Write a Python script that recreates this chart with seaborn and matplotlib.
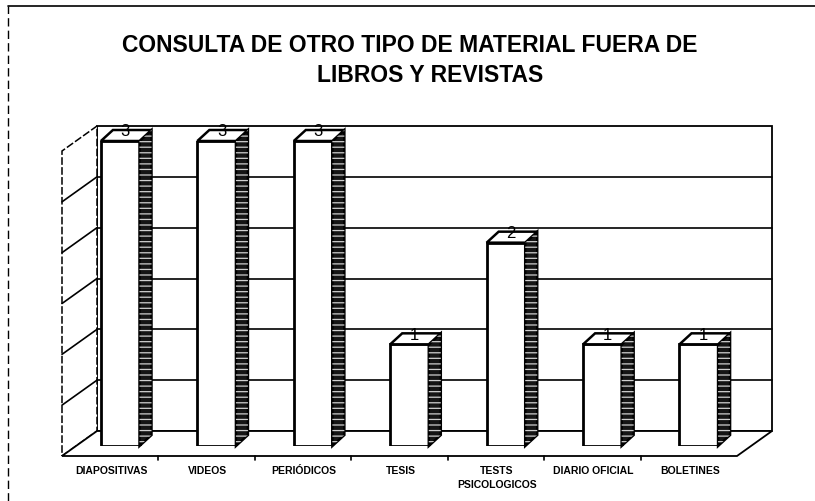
import matplotlib
matplotlib.use("Agg")
import matplotlib.pyplot as plt
import seaborn as sns
import pandas as pd
from matplotlib.patches import Polygon
from matplotlib.lines import Line2D
from matplotlib.transforms import ScaledTranslation

# --- data -------------------------------------------------------------
categorias = ["DIAPOSITIVAS", "VIDEOS", "PERIÓDICOS", "TESIS",
              "TESTS\nPSICOLOGICOS", "DIARIO OFICIAL", "BOLETINES"]
consultas = [3, 3, 3, 1, 2, 1, 1]
titulo = ["CONSULTA DE OTRO TIPO DE MATERIAL FUERA DE", "LIBROS Y REVISTAS"]
y_max = 3
rejilla = [0.5, 1.0, 1.5, 2.0, 2.5]

# --- style ------------------------------------------------------------
sns.set_theme(style="white")
plt.rcParams['font.family'] = ['Liberation Sans', 'DejaVu Sans']
plt.rcParams['hatch.linewidth'] = 0.9
plt.rcParams['text.color'] = 'black'
plt.rcParams['xtick.color'] = 'black'
plt.rcParams['xtick.labelcolor'] = 'black'
plt.rcParams['axes.labelcolor'] = 'black'

W, H = 815, 502
fig = plt.figure(figsize=(W / 100, H / 100), dpi=100, facecolor="white")
ax = fig.add_axes([72 / W, (H - 447) / H, 675 / W, 305 / H])

df = pd.DataFrame({"material": categorias, "consultas": consultas})
sns.barplot(data=df, x="material", y="consultas", color="white",
            saturation=1, edgecolor="black", linewidth=2, width=0.4,
            ax=ax, zorder=5)

n = len(categorias)
x0, x1 = -0.5, n - 0.5
ax.set_xlim(x0, x1)
ax.set_ylim(0, y_max)
ax.set_facecolor("none")
for s in ax.spines.values():
    s.set_visible(False)
ax.set_yticks([])
ax.set_xlabel("")
ax.set_ylabel("")

# pixel -> data scale for the oblique depth offsets
sx = ax.bbox.width / (x1 - x0)
sy = ax.bbox.height / y_max


def shift(x, y, off):
    return (x + off[0] / sx, y + off[1] / sy)


FRONT = (-10, -10)   # front edge of walls / floor
BACK = (25, 15)      # back wall plane
DEPTH = (12, 11)     # bar depth

kw_line = dict(color="black", lw=1.2, clip_on=False, zorder=2)

# back wall, left wall and floor
back = Polygon([shift(x0, 0, BACK), shift(x1, 0, BACK),
                shift(x1, y_max, BACK), shift(x0, y_max, BACK)],
               closed=True, facecolor="white", edgecolor="black", lw=1.3,
               clip_on=False, zorder=1)
left = Polygon([shift(x0, 0, FRONT), shift(x0, 0, BACK),
                shift(x0, y_max, BACK), shift(x0, y_max, FRONT)],
               closed=True, facecolor="white", edgecolor="black", lw=1.1,
               linestyle=(0, (5, 1.5)), clip_on=False, zorder=1)
floor = Polygon([shift(x0, 0, FRONT), shift(x1, 0, FRONT),
                 shift(x1, 0, BACK), shift(x0, 0, BACK)],
                closed=True, facecolor="white", edgecolor="black", lw=1.3,
                clip_on=False, zorder=1)
for p in (back, left, floor):
    ax.add_patch(p)

# gridlines on the back and left walls
for v in rejilla:
    a, b = shift(x0, v, BACK), shift(x1, v, BACK)
    ax.add_line(Line2D([a[0], b[0]], [a[1], b[1]], **kw_line))
    a, b = shift(x0, v, FRONT), shift(x0, v, BACK)
    ax.add_line(Line2D([a[0], b[0]], [a[1], b[1]], **kw_line))

# small tick marks along the front floor edge
for i in range(n - 1):
    a = shift(i + 0.5, 0, FRONT)
    b = shift(i + 0.5, 0, (FRONT[0], FRONT[1] - 4))
    ax.add_line(Line2D([a[0], b[0]], [a[1], b[1]], **kw_line))

# 3-D faces and value labels for each bar
for patch, val in zip(ax.patches[:n], consultas):
    x, w, h = patch.get_x(), patch.get_width(), patch.get_height()
    side_pts = [(x + w, 0), (x + w, h), shift(x + w, h, DEPTH),
                shift(x + w, 0, DEPTH)]
    ax.add_patch(Polygon(side_pts, closed=True, facecolor="#151515",
                         edgecolor="black", lw=1.8, zorder=6, clip_on=False))
    ax.add_patch(Polygon(side_pts, closed=True, fill=False, hatch="---",
                         edgecolor="#cfcfcf", lw=0, zorder=6.5,
                         clip_on=False))
    top_pts = [(x, h), (x + w, h), shift(x + w, h, DEPTH), shift(x, h, DEPTH)]
    ax.add_patch(Polygon(top_pts, closed=True, facecolor="white",
                         edgecolor="black", lw=1.8, zorder=6, clip_on=False))
    tx, ty = shift(x + w / 2, h, (5, 10))
    ax.text(tx, ty, f"{val:g}", ha="center", va="center", fontsize=12,
            color="black", zorder=8, clip_on=False)

# category labels sit on the front edge of the floor
ax.set_xticks(range(n))
ax.set_xticklabels(categorias, fontsize=7.5, fontweight="bold",
                   linespacing=1.5, color="black")
ax.tick_params(axis="x", length=0, pad=13.7)
for lab in ax.get_xticklabels():
    lab.set_transform(lab.get_transform() +
                      ScaledTranslation(-9 / 100, 0, fig.dpi_scale_trans))

# title
fig.text(410 / W, 1 - 46 / H, titulo[0], ha="center", va="center",
         fontsize=16.5, fontweight="bold", color="black")
fig.text(430 / W, 1 - 76 / H, titulo[1], ha="center", va="center",
         fontsize=16.5, fontweight="bold", color="black")

# outer frame (top and left)
fig.add_artist(Line2D([8 / W, 1], [1 - 7 / H, 1 - 7 / H],
                      transform=fig.transFigure, color="black", lw=1.2))
fig.add_artist(Line2D([8 / W, 8 / W], [0, 1 - 7 / H],
                      transform=fig.transFigure, color="black", lw=1.0,
                      linestyle=(0, (6, 3))))

fig.savefig("out.png", dpi=100, facecolor="white")
